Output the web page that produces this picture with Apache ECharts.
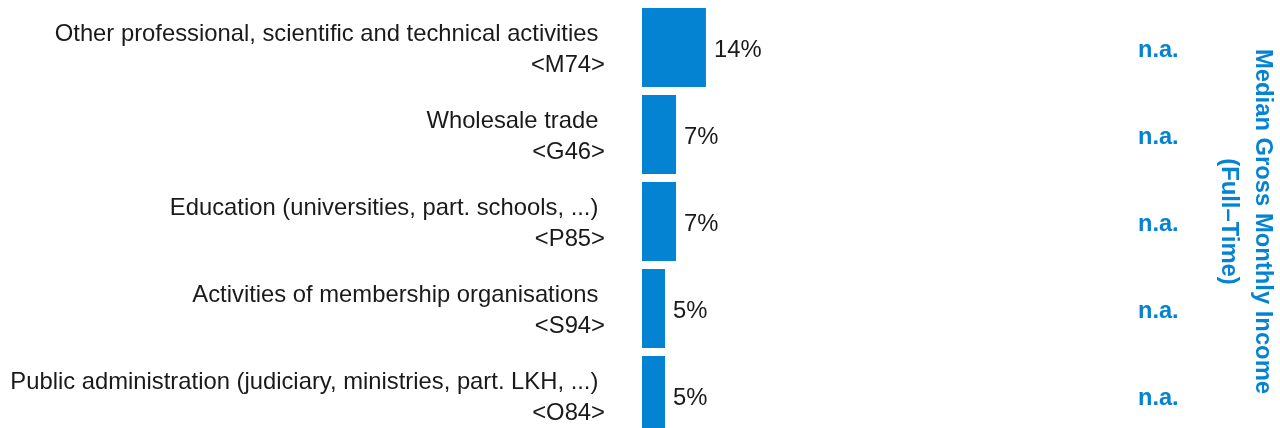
<!DOCTYPE html>
<html><head><meta charset="utf-8">
<script src="https://cdn.jsdelivr.net/npm/echarts@6/dist/echarts.min.js"></script>
<style>html,body{margin:0;padding:0;background:#fff}#c{width:1280px;height:428px}</style>
</head><body><div id="c"></div>
<script>
const categories = [
  'Other professional, scientific and technical activities',
  'Wholesale trade',
  'Education (universities, part. schools, ...)',
  'Activities of membership organisations',
  'Public administration (judiciary, ministries, part. LKH, ...)'
];
const codes = ['<M74>', '<G46>', '<P85>', '<S94>', '<O84>'];
const shares = [13.9, 7.4, 7.4, 5.0, 5.0];
const incomeLabels = ['n.a.', 'n.a.', 'n.a.', 'n.a.', 'n.a.'];
const rightTitle = 'Median Gross Monthly Income\n(Full\u2013Time)';

const FONT = '"Liberation Sans", Arial, Helvetica, sans-serif';
const BLUE = '#0583d3';

const chart = echarts.init(document.getElementById('c'), null, {renderer: 'canvas'});
chart.setOption({
  animation: false,
  backgroundColor: '#ffffff',
  grid: {left: 642, width: 460, top: 4, height: 435, containLabel: false, outerBoundsMode: 'none'},
  xAxis: {type: 'value', min: 0, max: 100, show: false},
  yAxis: [
    {
      type: 'category', inverse: true, data: categories,
      axisLine: {show: false}, axisTick: {show: false}, splitLine: {show: false},
      axisLabel: {
        margin: 37, align: 'right',
        formatter: (v, i) => '{s| }\n{a|' + v + ' }\n{a|' + codes[i] + '}',
        rich: {
          s: {fontSize: 2, lineHeight: 4},
          a: {fontFamily: FONT, fontSize: 23.8, lineHeight: 31, color: '#1a1a1a', align: 'right'}
        }
      }
    },
    {
      type: 'category', inverse: true, position: 'right', data: categories,
      axisLine: {show: false}, axisTick: {show: false}, splitLine: {show: false},
      axisLabel: {
        margin: 36,
        formatter: (v, i) => '{s| }\n{b|' + incomeLabels[i] + '}',
        rich: {
          s: {fontSize: 2, lineHeight: 6},
          b: {fontFamily: FONT, fontSize: 23.6, fontWeight: 'bold', color: BLUE, lineHeight: 28}
        }
      },
      name: rightTitle, nameLocation: 'middle', nameRotate: -90, nameGap: 110,
      nameTextStyle: {fontFamily: FONT, fontSize: 23.8, fontWeight: 'bold', color: BLUE, lineHeight: 34, align: 'center'}
    }
  ],
  series: [{
    type: 'bar', data: shares, yAxisIndex: 0,
    barCategoryGap: '9.2%',
    itemStyle: {color: BLUE},
    label: {
      show: true, position: 'right', distance: 8, offset: [0, 2.5],
      fontFamily: FONT, fontSize: 23.8, color: '#1a1a1a',
      formatter: p => Math.round(p.value) + '%'
    }
  }]
});
</script>
</body></html>
